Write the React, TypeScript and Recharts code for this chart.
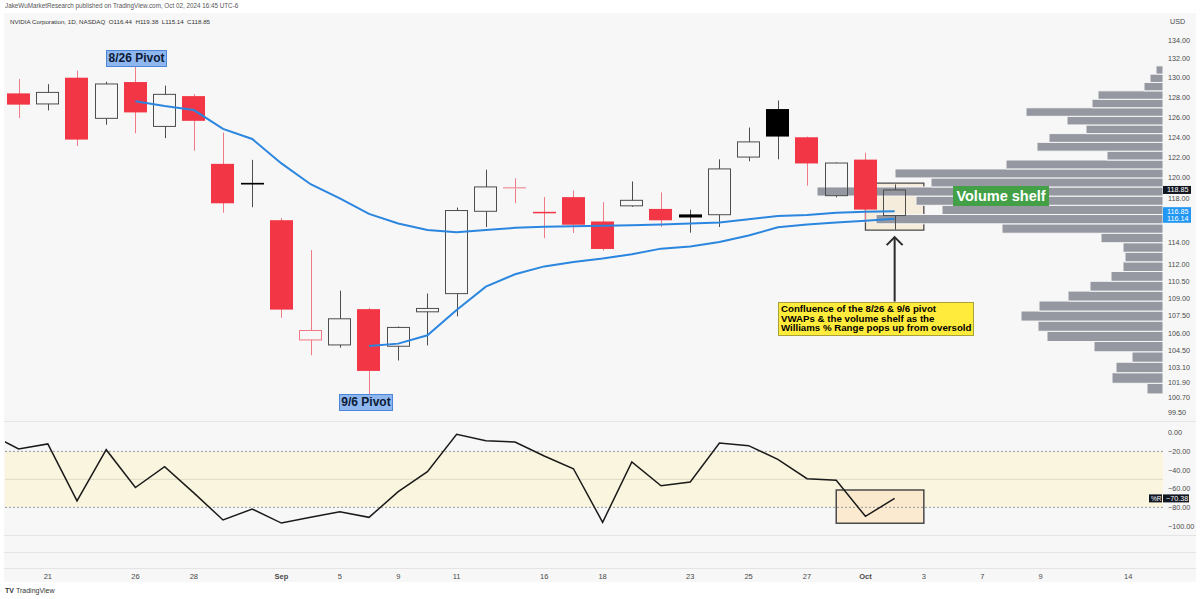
import React from 'react';
import { ComposedChart, Bar, Line, XAxis, YAxis, ReferenceArea, ReferenceLine } from 'recharts';

// trading sessions, index = x position on the time axis
const SESSIONS = [
  '08-19', '08-20', '08-21', '08-22', '08-23', '08-26', '08-27', '08-28', '08-29', '08-30',
  '09-03', '09-04', '09-05', '09-06', '09-09', '09-10', '09-11', '09-12', '09-13', '09-16',
  '09-17', '09-18', '09-19', '09-20', '09-23', '09-24', '09-25', '09-26', '09-27', '09-30',
  '10-01', '10-02', '10-03', '10-04', '10-07', '10-08', '10-09', '10-10', '10-11', '10-14', '10-15',
];

const OPEN = [124.28, 128.4, 127.32, 130.02, 125.86, 129.57, 125.05, 128.12, 121.36, 119.53, 116.01, 105.41, 104.99, 108.04, 104.88, 107.81, 109.39, 116.84, 119.08, 116.79, 118.17, 115.89, 117.35, 117.06, 116.55, 116.52, 122.02, 126.8, 123.97, 118.31, 121.77, 116.44];
const HIGH = [130.0, 129.88, 129.35, 130.75, 129.6, 131.26, 129.2, 128.33, 124.43, 121.75, 116.21, 113.27, 109.65, 108.15, 106.55, 109.4, 117.19, 120.79, 119.96, 118.18, 118.8, 117.7, 119.66, 118.62, 116.99, 121.8, 124.94, 127.67, 124.03, 121.5, 122.44, 119.38];
const LOW = [123.42, 125.89, 126.66, 123.1, 125.22, 124.37, 123.88, 122.64, 116.71, 117.22, 107.29, 104.12, 104.76, 100.95, 103.69, 104.95, 107.42, 115.38, 117.6, 114.36, 114.83, 113.22, 117.25, 115.39, 114.86, 115.38, 121.61, 121.8, 119.26, 118.15, 115.79, 115.14];
const CLOSE = [130.0, 127.25, 128.5, 123.74, 129.37, 126.46, 128.3, 125.61, 117.59, 119.37, 108.0, 106.21, 107.21, 102.83, 106.47, 108.1, 116.91, 119.14, 119.1, 116.78, 115.59, 113.37, 117.87, 116.0, 116.26, 120.87, 123.51, 124.04, 121.4, 121.44, 117.0, 118.85];

// anchored VWAPs: 8/26 pivot (starts at index 5) and 9/6 pivot (starts at index 13)
const VWAP_826 = [null, null, null, null, null, 127.6, 127.1, 126.7, 124.8, 123.8, 121.4, 119.4, 118.05, 116.6, 115.7, 115.1, 114.9, 115.1, 115.3, 115.4, 115.45, 115.5, 115.55, 115.6, 115.7, 115.8, 116.1, 116.4, 116.5, 116.7, 116.8, 116.85];
const VWAP_96 = [null, null, null, null, null, null, null, null, null, null, null, null, null, 104.9, 105.1, 105.8, 107.97, 110.0, 111.1, 111.8, 112.2, 112.5, 112.9, 113.4, 113.6, 114.0, 114.6, 115.35, 115.6, 115.8, 115.95, 116.14];

// Williams %R
const WILLIAMS_R = [-1, -17.5, -12, -73, -18.2, -58.7, -36.4, -64.5, -93.5, -81.8, -96.8, -90.7, -84.6, -90.7, -63.2, -41.8, -1.7, -8.6, -10, -25, -38.6, -96, -31.4, -56.8, -52.8, -11, -13.9, -28.5, -49.3, -51, -89.6, -70.38];

// visible range volume profile, rows from the lowest price bin upward
const VP_LOW = 100.95;
const VP_STEP = 0.866;
const VP_VOLUME = [16, 51, 47, 31, 69, 116, 125, 142, 124, 95, 73, 52, 40, 38, 40, 62, 161, 287, 221, 247, 346, 232, 268, 157, 56, 126, 114, 77, 96, 137, 71, 65, 19, 13, 7];

const PRICE_TICKS = [134, 132, 130, 128, 126, 124, 122, 120, 118, 114, 112, 110.5, 109, 107.5, 106, 104.5, 103.1, 101.9, 100.7, 99.5];
const WR_TICKS = [0, -20, -40, -60, -80, -100];
const TICK_DAYS = ['08-21', '08-26', '08-28', '09-03', '09-05', '09-09', '09-11', '09-16', '09-18', '09-23', '09-25', '09-27', '10-01', '10-03', '10-07', '10-09', '10-14'];
const TICK_LABELS = ['21', '26', '28', 'Sep', '5', '9', '11', '16', '18', '23', '25', '27', 'Oct', '3', '7', '9', '14'];

const BG = '#f7f7f7';
const RED = '#f23645';
const RED_LINE = '#f07a85';
const DARK_LINE = '#4d4d4d';
const VWAP_BLUE = '#2b86e0';
const VP_GRAY = '#9598a1';
const AXIS_TEXT = '#4a4a4a';
const FONT = '"Liberation Sans", Arial, sans-serif';

const X_DOMAIN = [0.534, 40.19];
const PRICE_DOMAIN = [98.79, 136.93];
const WR_DOMAIN = [-109.6, 12.54];
const VP_SPAN = 1158;

const TICK_IDX = TICK_DAYS.map((d) => SESSIONS.indexOf(d));

const rows = CLOSE.map((c, i) => ({
  i,
  day: SESSIONS[i],
  range: [LOW[i], HIGH[i]],
  open: OPEN[i],
  high: HIGH[i],
  low: LOW[i],
  close: c,
  prevClose: i > 0 ? CLOSE[i - 1] : null,
  vwap1: VWAP_826[i],
  vwap2: VWAP_96[i],
  wr: WILLIAMS_R[i],
}));

const last = CLOSE.length - 1;

// hollow candles: body hollow when close >= open, red when close < previous close
const Candle = (props: any) => {
  const { x, y, width, height, payload } = props;
  if (!payload || payload.open == null) return null;
  const { open, high, low, close, prevClose } = payload;
  const top = Math.min(y, y + height);
  const span = Math.abs(height);
  const lnH = Math.log(high);
  const lnL = Math.log(low);
  const py = (p: number) => top + (span * (lnH - Math.log(p))) / (lnH - lnL);
  const hollow = close >= open;
  const falling = prevClose != null && close < prevClose;
  const line = falling ? RED_LINE : DARK_LINE;
  const cx = Math.round(x + width / 2) + 0.5;
  const left = Math.round(x);
  const w = Math.round(width);
  const bodyTop = py(Math.max(open, close));
  const bodyH = Math.max(py(Math.min(open, close)) - bodyTop, 1);
  if (hollow) {
    return (
      <g>
        <line x1={cx} x2={cx} y1={top} y2={bodyTop} stroke={line} />
        <line x1={cx} x2={cx} y1={bodyTop + bodyH} y2={top + span} stroke={line} />
        {bodyH <= 2 ? (
          <rect x={left} y={bodyTop} width={w} height={bodyH} fill={line} />
        ) : (
          <rect x={left + 0.5} y={bodyTop} width={w - 1} height={bodyH} fill="none" stroke={line} />
        )}
      </g>
    );
  }
  return (
    <g>
      <line x1={cx} x2={cx} y1={top} y2={top + span} stroke={line} />
      <rect x={left} y={bodyTop} width={w} height={Math.max(bodyH, 1.5)} fill={falling ? RED : '#000'} />
    </g>
  );
};

const PriceTag = ({ viewBox, text, bg, dy = 0 }: any) => {
  if (!viewBox) return null;
  const x = viewBox.x + viewBox.width;
  const y = viewBox.y + dy;
  return (
    <g>
      <rect x={x} y={y - 4} width={28} height={8} fill={bg} />
      <text x={x + 4} y={y} fontSize={7.2} fill="#fff" dominantBaseline="central" fontFamily={FONT}>
        {text}
      </text>
    </g>
  );
};

const WrTag = ({ viewBox, text }: any) => {
  if (!viewBox) return null;
  const x = viewBox.x + viewBox.width;
  const y = viewBox.y;
  return (
    <g>
      <rect x={x - 14} y={y - 4} width={13} height={8} fill="#131722" />
      <text x={x - 12} y={y} fontSize={6.5} fill="#fff" dominantBaseline="central" fontFamily={FONT}>%R</text>
      <rect x={x} y={y - 4} width={26} height={8} fill="#131722" />
      <text x={x + 3} y={y} fontSize={7.2} fill="#fff" dominantBaseline="central" fontFamily={FONT}>{text}</text>
    </g>
  );
};

const Arrow = (props: any) => {
  const { x1, y1, x2, y2 } = props;
  const tipY = Math.min(y1, y2);
  const baseY = Math.max(y1, y2);
  const cx = x1 ?? x2;
  return (
    <g stroke="#2a2a2a" strokeWidth={2} fill="none">
      <line x1={cx} x2={cx} y1={baseY} y2={tipY} />
      <polyline points={`${cx - 8},${tipY + 8} ${cx},${tipY} ${cx + 8},${tipY + 8}`} />
    </g>
  );
};

const DayTick = ({ x, y, payload }: any) => {
  const k = TICK_IDX.indexOf(payload.value);
  const label = TICK_LABELS[k] ?? '';
  const bold = label === 'Sep' || label === 'Oct';
  return (
    <text x={x} y={y + 41} textAnchor="middle" dominantBaseline="central" fontSize={7.5} fontWeight={bold ? 700 : 400} fill={AXIS_TEXT} fontFamily={FONT}>
      {label}
    </text>
  );
};

const fmtMinus = (v: number) => (v < 0 ? `\u2212${Math.abs(v).toFixed(2)}` : v.toFixed(2));

const hLine = (top: number) => (
  <div style={{ position: 'absolute', left: 4, top, width: 1192, height: 1, background: '#e4e4e4' }} />
);

export default function App() {
  return (
    <div style={{ position: 'absolute', left: 0, top: 0, width: 1200, height: 599, background: '#fff', overflow: 'hidden', fontFamily: FONT }}>
      <div style={{ position: 'absolute', left: 5, top: 2, fontSize: 6.3, color: '#555', whiteSpace: 'nowrap' }}>
        JakeWuMarketResearch published on TradingView.com, Oct 02, 2024 16:45 UTC-6
      </div>
      <div style={{ position: 'absolute', left: 4, top: 13, width: 1192, height: 569, background: BG }} />

      {/* price pane */}
      <div style={{ position: 'absolute', left: 0, top: 13 }}>
        <ComposedChart width={1200} height={408} data={rows} margin={{ top: 0, right: 0, bottom: 0, left: 5 }}>
          <XAxis xAxisId="t" dataKey="i" type="number" domain={X_DOMAIN} allowDataOverflow hide />
          <XAxis xAxisId="vp" dataKey="i" type="number" domain={[0, VP_SPAN]} reversed allowDataOverflow hide />
          <YAxis
            yAxisId="p"
            orientation="right"
            width={37}
            type="number"
            scale="log"
            domain={PRICE_DOMAIN}
            allowDataOverflow
            ticks={PRICE_TICKS}
            interval={0}
            tickFormatter={(v: number) => v.toFixed(2)}
            axisLine={false}
            tickLine={false}
            tickSize={0}
            tickMargin={5}
            tick={{ fontSize: 7.2, fill: AXIS_TEXT, fontFamily: FONT }}
          />
          <ReferenceArea xAxisId="t" yAxisId="p" x1={30} x2={32} y1={115.1} y2={119.5} fill="#f6ecdc" fillOpacity={1} stroke="#4a4a4a" strokeWidth={1.3} />
          {VP_VOLUME.map((v, k) => (
            <ReferenceArea
              key={k}
              xAxisId="vp"
              yAxisId="p"
              x1={0}
              x2={v}
              y1={VP_LOW + k * VP_STEP}
              y2={VP_LOW + (k + 1) * VP_STEP}
              fill={VP_GRAY}
              fillOpacity={1}
              stroke={BG}
              strokeWidth={1}
            />
          ))}
          <Line xAxisId="t" yAxisId="p" dataKey="vwap1" stroke={VWAP_BLUE} strokeWidth={2} dot={false} activeDot={false} isAnimationActive={false} />
          <Line xAxisId="t" yAxisId="p" dataKey="vwap2" stroke={VWAP_BLUE} strokeWidth={2} dot={false} activeDot={false} isAnimationActive={false} />
          <Bar xAxisId="t" yAxisId="p" dataKey="range" barSize={23} shape={(p: any) => <Candle {...p} />} isAnimationActive={false} />
          <ReferenceLine
            xAxisId="t"
            yAxisId="p"
            segment={[{ x: 31, y: 108.7 }, { x: 31, y: 114.45 }]}
            shape={(p: any) => <Arrow {...p} />}
          />
          <ReferenceLine xAxisId="t" yAxisId="p" y={CLOSE[last]} stroke="none" label={(p: any) => <PriceTag viewBox={p.viewBox} text={CLOSE[last].toFixed(2)} bg="#131722" />} />
          <ReferenceLine xAxisId="t" yAxisId="p" y={VWAP_826[last] as number} stroke="none" label={(p: any) => <PriceTag viewBox={p.viewBox} text={(VWAP_826[last] as number).toFixed(2)} bg="#2196f3" />} />
          <ReferenceLine xAxisId="t" yAxisId="p" y={VWAP_96[last] as number} stroke="none" label={(p: any) => <PriceTag viewBox={p.viewBox} text={(VWAP_96[last] as number).toFixed(2)} bg="#2196f3" />} />
        </ComposedChart>
      </div>

      {/* Williams %R pane + time axis */}
      <div style={{ position: 'absolute', left: 0, top: 421 }}>
        <ComposedChart width={1200} height={161} data={rows} margin={{ top: 0, right: 0, bottom: 0, left: 5 }}>
          <XAxis
            xAxisId="t"
            dataKey="i"
            type="number"
            domain={X_DOMAIN}
            allowDataOverflow
            ticks={TICK_IDX}
            interval={0}
            height={47}
            axisLine={false}
            tickLine={false}
            tickSize={0}
            tickMargin={0}
            tick={(p: any) => <DayTick {...p} />}
          />
          <YAxis
            yAxisId="w"
            orientation="right"
            width={37}
            type="number"
            domain={WR_DOMAIN}
            allowDataOverflow
            ticks={WR_TICKS}
            interval={0}
            tickFormatter={fmtMinus}
            axisLine={false}
            tickLine={false}
            tickSize={0}
            tickMargin={5}
            tick={{ fontSize: 7.2, fill: AXIS_TEXT, fontFamily: FONT }}
          />
          <ReferenceArea xAxisId="t" yAxisId="w" y1={-80} y2={-20} fill="#f9f5de" fillOpacity={1} stroke="none" />
          <ReferenceLine xAxisId="t" yAxisId="w" y={-50} stroke="#dedac4" strokeWidth={1} />
          <ReferenceLine xAxisId="t" yAxisId="w" y={-20} stroke="#9598a1" strokeDasharray="2 2" strokeWidth={1} />
          <ReferenceLine xAxisId="t" yAxisId="w" y={-80} stroke="#9598a1" strokeDasharray="2 2" strokeWidth={1} />
          <ReferenceArea xAxisId="t" yAxisId="w" x1={29} x2={32} y1={-97.1} y2={-61.4} fill="#fbe8cb" fillOpacity={0.9} stroke="#4a4a4a" strokeWidth={1.5} />
          <Line xAxisId="t" yAxisId="w" dataKey="wr" stroke="#1a1a1a" strokeWidth={1.5} dot={false} activeDot={false} isAnimationActive={false} />
          <ReferenceLine xAxisId="t" yAxisId="w" y={WILLIAMS_R[last]} stroke="none" label={(p: any) => <WrTag viewBox={p.viewBox} text={fmtMinus(WILLIAMS_R[last])} />} />
        </ComposedChart>
      </div>

      {hLine(421)}
      {hLine(535)}
      {hLine(552)}
      {hLine(568)}

      {/* legend & currency */}
      <div style={{ position: 'absolute', left: 10, top: 18, fontSize: 6.2, color: '#333', whiteSpace: 'pre' }}>
        {`NVIDIA Corporation, 1D, NASDAQ  O${OPEN[last].toFixed(2)}  H${HIGH[last].toFixed(2)}  L${LOW[last].toFixed(2)}  C${CLOSE[last].toFixed(2)}`}
      </div>
      <div style={{ position: 'absolute', left: 1170, top: 17, fontSize: 7.2, color: AXIS_TEXT }}>USD</div>

      {/* annotations */}
      <div style={{ position: 'absolute', left: 106, top: 50, width: 59, height: 15, background: '#8fb7ef', border: '1px solid #4d86d6', color: '#0c1a35', fontSize: 12, fontWeight: 700, lineHeight: '15px', textAlign: 'center', whiteSpace: 'nowrap' }}>
        8/26 Pivot
      </div>
      <div style={{ position: 'absolute', left: 339, top: 394, width: 52, height: 15, background: '#8fb7ef', border: '1px solid #4d86d6', color: '#0c1a35', fontSize: 12, fontWeight: 700, lineHeight: '15px', textAlign: 'center', whiteSpace: 'nowrap' }}>
        9/6 Pivot
      </div>
      <div style={{ position: 'absolute', left: 953, top: 186, width: 96, height: 20, background: '#43a047', color: '#fff', fontSize: 14.5, fontWeight: 700, lineHeight: '20px', textAlign: 'center', whiteSpace: 'nowrap' }}>
        Volume shelf
      </div>
      <div style={{ position: 'absolute', left: 778, top: 302, width: 192, height: 31, background: '#ffeb3b', border: '1px solid #a9a23a', color: '#000', fontSize: 9.7, fontWeight: 700, lineHeight: '9.6px', padding: '1px 0 0 2px', whiteSpace: 'nowrap' }}>
        Confluence of the 8/26 &amp; 9/6 pivot
        <br />
        VWAPs &amp; the volume shelf as the
        <br />
        Williams % Range pops up from oversold
      </div>

      {/* footer logo */}
      <div style={{ position: 'absolute', left: 5, top: 587, fontSize: 7, color: '#333', whiteSpace: 'nowrap' }}>
        <span style={{ fontWeight: 900, marginRight: 2 }}>TV</span>TradingView
      </div>
    </div>
  );
}
